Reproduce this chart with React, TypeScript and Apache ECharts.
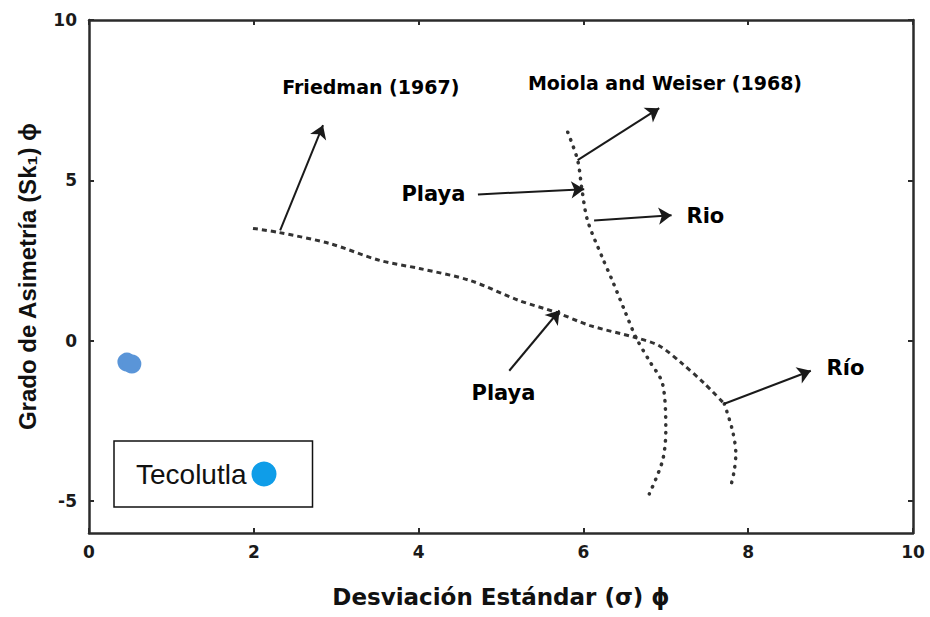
import React, { useEffect, useRef } from "react";
import * as echarts from "echarts";

const xTicks = [0, 2, 4, 6, 8, 10];
const yTicks = [-5, 0, 5, 10];

const tecolutla: number[][] = [
  [0.46, -0.67],
  [0.52, -0.73],
];

const friedmanDashed: number[][] = [
  [1.99, 3.5], [2.29, 3.38], [2.92, 3.03], [3.53, 2.5], [4.01, 2.25],
  [4.62, 1.88], [5.22, 1.25], [5.67, 0.88], [6.08, 0.47], [6.64, 0.09],
  [6.92, -0.16], [7.2, -0.72], [7.47, -1.34], [7.71, -1.97],
];
const friedmanDotted: number[][] = [
  [7.71, -1.97], [7.81, -2.81], [7.85, -3.53], [7.83, -4.06], [7.79, -4.53],
];
const moiola: number[][] = [
  [5.81, 6.5], [5.93, 5.63], [5.98, 4.75], [6.05, 3.75], [6.23, 2.59],
  [6.35, 1.88], [6.5, 0.94], [6.64, 0.09], [6.8, -0.63], [6.96, -1.34],
  [7.0, -2.81], [6.96, -3.75], [6.8, -4.78],
];

const annotationLabels = [
  { name: "Friedman (1967)", value: [3.42, 7.9], size: 19 },
  { name: "Moiola and Weiser (1968)", value: [6.99, 8.03], size: 19 },
  { name: "Playa", value: [4.18, 4.56], size: 21 },
  { name: "Rio", value: [7.48, 3.88], size: 21 },
  { name: "Playa", value: [5.03, -1.63], size: 21 },
  { name: "Río", value: [9.18, -0.84], size: 21 },
];

const arrows: number[][][] = [
  [[2.32, 3.44], [2.84, 6.72]],
  [[5.93, 5.63], [6.92, 7.25]],
  [[4.72, 4.56], [6.01, 4.72]],
  [[6.13, 3.75], [7.07, 3.91]],
  [[5.1, -0.94], [5.71, 0.94]],
  [[7.71, -1.97], [8.76, -0.94]],
];

const FONT = "DejaVu Sans";
const frameColor = "#2b2b2b";

export default function App() {
  const ref = useRef<HTMLDivElement>(null);

  useEffect(() => {
    if (!ref.current) return;
    const chart = echarts.init(ref.current, undefined, { renderer: "svg" });

    const baseX = {
      type: "value" as const,
      min: 0,
      max: 10,
      interval: 2,
      splitLine: { show: false },
      axisLine: { show: true, onZero: false, lineStyle: { color: frameColor, width: 2.5 } },
      axisTick: { show: true, inside: true, length: 5, lineStyle: { color: frameColor, width: 2 } },
    };
    const baseY = {
      type: "value" as const,
      min: -6,
      max: 10,
      splitLine: { show: false },
      axisLine: { show: true, onZero: false, lineStyle: { color: frameColor, width: 2.5 } },
      axisTick: {
        show: true, inside: true, length: 5, customValues: yTicks,
        lineStyle: { color: frameColor, width: 2 },
      },
    };

    const dotted = { color: "#333", width: 3.5, type: [0.5, 7.5], cap: "round" };

    chart.setOption({
      animation: false,
      backgroundColor: "#ffffff",
      grid: { left: 89, right: 17, top: 20, bottom: 84, containLabel: false },
      legend: {
        show: true,
        left: 114,
        top: 441,
        align: "right",
        orient: "horizontal",
        icon: "circle",
        itemWidth: 25,
        itemHeight: 25,
        padding: [19, 36, 19, 22],
        borderColor: "#111",
        borderWidth: 1.5,
        textStyle: { fontFamily: "Liberation Sans", fontSize: 28, color: "#111" },
        data: [{ name: "Tecolutla", itemStyle: { color: "#0f9de8" } }],
      },
      xAxis: [
        {
          ...baseX,
          position: "bottom",
          name: "Desviación Estándar (σ) ϕ",
          nameLocation: "middle",
          nameGap: 52,
          nameTextStyle: { fontFamily: FONT, fontWeight: "bold", fontSize: 23, color: "#111" },
          axisLabel: { show: true, margin: 10, fontFamily: FONT, fontWeight: "bold", fontSize: 17, color: "#1a1a1a" },
        },
        {
          ...baseX,
          position: "top",
          axisLabel: { show: false },
        },
      ],
      yAxis: [
        {
          ...baseY,
          position: "left",
          name: "Grado de Asimetría (Sk₁) ϕ",
          nameLocation: "middle",
          nameRotate: 90,
          nameGap: 50,
          nameTextStyle: { fontFamily: "Liberation Sans", fontWeight: "bold", fontSize: 24, color: "#111" },
          axisLabel: {
            show: true, margin: 12, customValues: yTicks,
            fontFamily: FONT, fontWeight: "bold", fontSize: 17, color: "#1a1a1a",
          },
        },
        {
          ...baseY,
          position: "right",
          axisLabel: { show: false },
        },
      ],
      series: [
        {
          name: "Friedman (1967)",
          type: "line",
          data: friedmanDashed,
          symbol: "none",
          smooth: 0.3,
          lineStyle: { color: "#333", width: 3, type: [5, 4] },
          silent: true,
        },
        {
          name: "Friedman (1967) b",
          type: "line",
          data: friedmanDotted,
          symbol: "none",
          smooth: 0.3,
          lineStyle: dotted,
          silent: true,
        },
        {
          name: "Moiola and Weiser (1968)",
          type: "line",
          data: moiola,
          symbol: "none",
          smooth: 0.3,
          lineStyle: dotted,
          silent: true,
        },
        {
          name: "arrows",
          type: "line",
          data: [],
          symbol: "none",
          color: "#1a1a1a",
          itemStyle: { color: "#1a1a1a" },
          lineStyle: { color: "#1a1a1a" },
          silent: true,
          markLine: {
            silent: true,
            symbol: ["none", "arrow"],
            symbolSize: 13,
            label: { show: false },
            itemStyle: { color: "#1a1a1a" },
            lineStyle: { color: "#1a1a1a", width: 2, type: "solid" },
            emphasis: { disabled: true },
            data: arrows.map((a) => [{ coord: a[0] }, { coord: a[1] }]),
          },
        },
        {
          name: "annotations",
          type: "scatter",
          symbolSize: 1,
          itemStyle: { color: "#ffffff", opacity: 1 },
          silent: true,
          z: 5,
          data: annotationLabels.map((a) => ({
            name: a.name,
            value: a.value,
            label: {
              show: true,
              position: "inside",
              formatter: "{b}",
              fontFamily: FONT,
              fontWeight: "bold",
              fontSize: a.size,
              color: "#000000",
              textBorderWidth: 0,
            },
          })),
        },
        {
          name: "Tecolutla",
          type: "scatter",
          data: tecolutla,
          symbol: "circle",
          symbolSize: 19,
          itemStyle: { color: "#5a95d8", opacity: 1 },
        },
      ],
    });

    return () => chart.dispose();
  }, []);

  return (
    <div
      ref={ref}
      style={{ position: "fixed", left: 0, top: 0, width: 930, height: 617 }}
    />
  );
}
